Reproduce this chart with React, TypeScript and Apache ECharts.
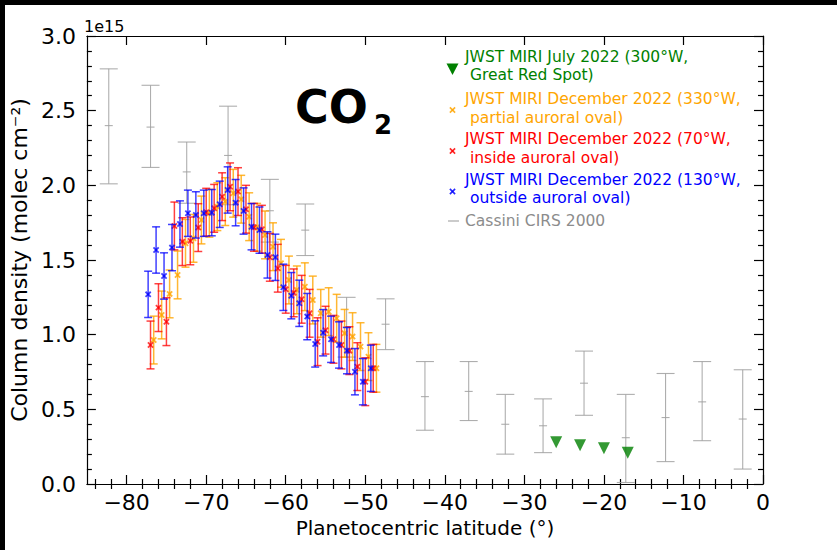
import React, { useEffect, useRef } from "react";
import * as echarts from "echarts";

// ---- axis setup ----
const X_MIN = -85;
const X_MAX = 0;
const Y_MIN = 0;
const Y_MAX = 3.0;
const X_MAJOR_TICKS = [-80, -70, -60, -50, -40, -30, -20, -10, 0];
const X_MINOR_TICKS = [
  -84, -82, -78, -76, -74, -72, -68, -66, -64, -62, -58, -56, -54, -52, -48, -46, -44, -42,
  -38, -36, -34, -32, -28, -26, -24, -22, -18, -16, -14, -12, -8, -6, -4, -2,
];

// ---- Cassini CIRS 2000 (column density in units of 1e15 molec cm^-2) ----
const CASSINI_LAT = [-82.25, -77.0, -72.45, -67.25, -62.0, -57.55, -52.35, -47.45, -42.5, -37.0, -32.4, -27.65, -22.5, -17.25, -12.25, -7.65, -2.55];
const CASSINI_VAL = [2.4, 2.39, 2.09, 2.2, 1.83, 1.7, 1.05, 1.07, 0.585, 0.62, 0.4, 0.39, 0.675, 0.31, 0.445, 0.55, 0.435];
const CASSINI_LO = [2.01, 2.12, 1.88, 1.87, 1.62, 1.53, 0.85, 0.9, 0.36, 0.425, 0.2, 0.21, 0.46, 0.01, 0.15, 0.29, 0.1];
const CASSINI_HI = [2.78, 2.67, 2.29, 2.53, 2.04, 1.875, 1.25, 1.24, 0.82, 0.82, 0.6, 0.57, 0.89, 0.6, 0.74, 0.82, 0.765];

// ---- JWST MIRI July 2022, Great Red Spot ----
const GRS_LAT = [-26, -23, -20, -17];
const GRS_VAL = [0.28, 0.26, 0.24, 0.21];

// ---- JWST MIRI December 2022, 330°W ----
const ORANGE_LAT = [-76.6, -75.6, -74.6, -73.6, -72.6, -71.6, -70.6, -69.6, -68.6, -67.6, -66.6, -65.6, -64.6, -63.6, -62.6, -61.6, -60.6, -59.6, -58.6, -57.6, -56.6, -55.6, -54.6, -53.6, -52.6, -51.6, -50.6, -49.6, -48.6];
const ORANGE_VAL = [0.964, 1.132, 1.273, 1.4, 1.612, 1.645, 1.768, 1.813, 1.857, 1.891, 1.947, 1.907, 1.79, 1.719, 1.668, 1.589, 1.478, 1.366, 1.3, 1.321, 1.232, 1.143, 1.154, 1.11, 1.009, 0.987, 0.92, 0.853, 0.775];
const ORANGE_ERR = 0.16;

// ---- JWST MIRI December 2022, 70°W ----
const RED_LAT = [-77.0, -76.0, -75.0, -74.0, -73.0, -72.0, -71.0, -70.0, -69.0, -68.0, -67.0, -66.0, -65.0, -64.0, -63.0, -62.0, -61.0, -60.0, -59.0, -58.0, -57.0, -56.0, -55.0, -54.0, -53.0, -52.0, -51.0, -50.0, -49.0];
const RED_VAL = [0.931, 1.181, 1.087, 1.728, 1.623, 1.628, 1.717, 1.82, 1.846, 1.924, 1.99, 1.958, 1.84, 1.719, 1.706, 1.518, 1.445, 1.304, 1.28, 1.237, 1.143, 0.953, 1.03, 0.969, 0.931, 0.893, 0.786, 0.685, 0.775];
const RED_ERR = 0.16;

// ---- JWST MIRI December 2022, 130°W ----
const BLUE_LAT = [-77.3, -76.3, -75.3, -74.3, -73.3, -72.3, -71.3, -70.3, -69.3, -68.3, -67.3, -66.3, -65.3, -64.3, -63.3, -62.3, -61.3, -60.3, -59.3, -58.3, -57.3, -56.3, -55.3, -54.3, -53.3, -52.3, -51.3, -50.3, -49.3];
const BLUE_VAL = [1.27, 1.567, 1.393, 1.583, 1.741, 1.813, 1.802, 1.813, 1.817, 1.873, 1.969, 1.884, 1.828, 1.723, 1.7, 1.534, 1.518, 1.317, 1.261, 1.21, 1.121, 0.938, 1.013, 0.969, 0.931, 0.893, 0.752, 0.685, 0.775];
const BLUE_ERR = 0.155;

const FONT = "DejaVu Sans";
const C_GREEN = "#008000";
const C_ORANGE = "#ffa500";
const C_RED = "#ff0000";
const C_BLUE = "#0000ff";
const C_GRAY = "#a0a0a0";

type Marker = "x" | "hline";

function errorBars(color: string, opacity: number, lineWidth: number, capHalf: number, marker: Marker) {
  return (_params: any, api: any) => {
    const x = api.value(0);
    const y = api.value(1);
    const lo = api.value(2);
    const hi = api.value(3);
    const p = api.coord([x, y]);
    const pHi = api.coord([x, hi]);
    const pLo = api.coord([x, lo]);
    const style = { stroke: color, lineWidth, opacity };
    const children: any[] = [
      { type: "line", shape: { x1: pHi[0], y1: pHi[1], x2: pLo[0], y2: pLo[1] }, style },
      { type: "line", shape: { x1: pHi[0] - capHalf, y1: pHi[1], x2: pHi[0] + capHalf, y2: pHi[1] }, style },
      { type: "line", shape: { x1: pLo[0] - capHalf, y1: pLo[1], x2: pLo[0] + capHalf, y2: pLo[1] }, style },
    ];
    if (marker === "x") {
      const s = 2.6;
      const ms = { stroke: color, lineWidth: 1.8, opacity };
      children.push({ type: "line", shape: { x1: p[0] - s, y1: p[1] - s, x2: p[0] + s, y2: p[1] + s }, style: ms });
      children.push({ type: "line", shape: { x1: p[0] - s, y1: p[1] + s, x2: p[0] + s, y2: p[1] - s }, style: ms });
    } else {
      children.push({ type: "line", shape: { x1: p[0] - 4, y1: p[1], x2: p[0] + 4, y2: p[1] }, style });
    }
    return { type: "group", children };
  };
}

function withErr(lat: number[], val: number[], err: number) {
  return lat.map((l, i) => [l, val[i], val[i] - err, val[i] + err]);
}

const fmtLat = (v: number) => (v < 0 ? "\u2212" + Math.abs(v) : String(v));

function legendX(cx: number, cy: number, color: string) {
  const s = 2.6;
  return [
    { type: "line", shape: { x1: cx - s, y1: cy - s, x2: cx + s, y2: cy + s }, style: { stroke: color, lineWidth: 1.6, opacity: 0.85 } },
    { type: "line", shape: { x1: cx - s, y1: cy + s, x2: cx + s, y2: cy - s }, style: { stroke: color, lineWidth: 1.6, opacity: 0.85 } },
  ];
}

function legendText(x: number, y: number, text: string, color: string) {
  return {
    type: "text",
    x,
    y,
    style: { text, fill: color, font: `15.5px "${FONT}"`, lineHeight: 18.5, textVerticalAlign: "middle", verticalAlign: "middle" },
  };
}

export default function App() {
  const ref = useRef<HTMLDivElement>(null);

  useEffect(() => {
    if (!ref.current) return;
    const chart = echarts.init(ref.current, undefined, { renderer: "svg" });

    const tickLine = { color: "#000", width: 1.2 };
    const xBase = { type: "value", min: X_MIN, max: X_MAX, splitLine: { show: false } };
    const yBase = { type: "value", min: Y_MIN, max: Y_MAX, interval: 0.5, splitLine: { show: false }, minorSplitLine: { show: false } };

    const option: any = {
      animation: false,
      backgroundColor: "#ffffff",
      grid: { left: 84, top: 36, width: 679, height: 448 },
      xAxis: [
        {
          ...xBase,
          position: "bottom",
          axisLine: { show: true, onZero: false, lineStyle: tickLine },
          axisTick: { show: true, inside: true, length: 9, customValues: X_MAJOR_TICKS, lineStyle: tickLine },
          axisLabel: { show: true, customValues: X_MAJOR_TICKS, formatter: fmtLat, fontSize: 22, fontFamily: FONT, color: "#000", margin: 7 },
          name: "Planetocentric latitude (°)",
          nameLocation: "middle",
          nameGap: 33,
          nameTextStyle: { fontSize: 20, fontFamily: FONT, color: "#000" },
        },
        {
          ...xBase,
          position: "bottom",
          axisLine: { show: false },
          axisTick: { show: true, inside: true, length: 5, customValues: X_MINOR_TICKS, lineStyle: tickLine },
          axisLabel: { show: false },
        },
        {
          ...xBase,
          position: "top",
          axisLine: { show: true, onZero: false, lineStyle: tickLine },
          axisTick: { show: true, inside: true, length: 9, customValues: X_MAJOR_TICKS, lineStyle: tickLine },
          axisLabel: { show: false },
        },
        {
          ...xBase,
          position: "top",
          axisLine: { show: false },
          axisTick: { show: true, inside: true, length: 5, customValues: X_MINOR_TICKS, lineStyle: tickLine },
          axisLabel: { show: false },
        },
      ],
      yAxis: [
        {
          ...yBase,
          position: "left",
          axisLine: { show: true, onZero: false, lineStyle: tickLine },
          axisTick: { show: true, inside: true, length: 9, lineStyle: tickLine },
          minorTick: { show: true, splitNumber: 5, length: 5, lineStyle: tickLine },
          axisLabel: { formatter: (v: number) => v.toFixed(1), fontSize: 22, fontFamily: FONT, color: "#000", margin: 11 },
          name: "Column density (molec cm\u207B\u00B2)",
          nameLocation: "middle",
          nameRotate: 90,
          nameGap: 50,
          nameTextStyle: { fontSize: 22, fontFamily: FONT, color: "#000" },
        },
        {
          ...yBase,
          position: "right",
          axisLine: { show: true, onZero: false, lineStyle: tickLine },
          axisTick: { show: true, inside: true, length: 9, lineStyle: tickLine },
          minorTick: { show: true, splitNumber: 5, length: 5, lineStyle: tickLine },
          axisLabel: { show: false },
        },
      ],
      series: [
        {
          name: "Cassini CIRS 2000",
          type: "custom",
          xAxisIndex: 0,
          yAxisIndex: 0,
          encode: { x: 0, y: 1 },
          renderItem: errorBars(C_GRAY, 0.85, 1.1, 9, "hline"),
          data: CASSINI_LAT.map((l, i) => [l, CASSINI_VAL[i], CASSINI_LO[i], CASSINI_HI[i]]),
          z: 2,
        },
        {
          name: "JWST MIRI December 2022 (330°W)",
          type: "custom",
          xAxisIndex: 0,
          yAxisIndex: 0,
          encode: { x: 0, y: 1 },
          renderItem: errorBars(C_ORANGE, 0.8, 1.5, 4, "x"),
          data: withErr(ORANGE_LAT, ORANGE_VAL, ORANGE_ERR),
          z: 3,
        },
        {
          name: "JWST MIRI December 2022 (70°W)",
          type: "custom",
          xAxisIndex: 0,
          yAxisIndex: 0,
          encode: { x: 0, y: 1 },
          renderItem: errorBars(C_RED, 0.75, 1.5, 4, "x"),
          data: withErr(RED_LAT, RED_VAL, RED_ERR),
          z: 4,
        },
        {
          name: "JWST MIRI December 2022 (130°W)",
          type: "custom",
          xAxisIndex: 0,
          yAxisIndex: 0,
          encode: { x: 0, y: 1 },
          renderItem: errorBars(C_BLUE, 0.75, 1.5, 4, "x"),
          data: withErr(BLUE_LAT, BLUE_VAL, BLUE_ERR),
          z: 5,
        },
        {
          name: "JWST MIRI July 2022 (300°W)",
          type: "scatter",
          xAxisIndex: 0,
          yAxisIndex: 0,
          symbol: "triangle",
          symbolRotate: 180,
          symbolSize: 12,
          itemStyle: { color: C_GREEN },
          data: GRS_LAT.map((l, i) => [l, GRS_VAL[i]]),
          z: 6,
        },
      ],
      graphic: [
        // slide frame edges
        { type: "rect", shape: { x: 0, y: 0, width: 837, height: 5 }, style: { fill: "#000" }, z: 100 },
        { type: "rect", shape: { x: 0, y: 0, width: 5, height: 550 }, style: { fill: "#000" }, z: 100 },
        // axis offset text
        { type: "text", x: 84, y: 26, style: { text: "1e15", font: `16px "${FONT}"`, fill: "#000", textVerticalAlign: "middle", verticalAlign: "middle" } },
        // species title
        { type: "text", x: 295, y: 107, style: { text: "CO", font: `bold 46px "DejaVu Sans"`, fill: "#000", textVerticalAlign: "middle", verticalAlign: "middle" } },
        { type: "text", x: 374, y: 125, style: { text: "2", font: `bold 26px "DejaVu Sans"`, fill: "#000", textVerticalAlign: "middle", verticalAlign: "middle" } },
        // legend
        {
          type: "polygon",
          shape: { points: [[446.5, 63.5], [458.5, 63.5], [452.5, 75]] },
          style: { fill: C_GREEN },
        },
        legendText(465, 66, "JWST MIRI July 2022 (300°W,\n Great Red Spot)", C_GREEN),
        ...legendX(452.5, 110, C_ORANGE),
        legendText(465, 108.5, "JWST MIRI December 2022 (330°W,\n partial auroral oval)", C_ORANGE),
        ...legendX(452.5, 151, C_RED),
        legendText(465, 148.5, "JWST MIRI December 2022 (70°W,\n inside auroral oval)", C_RED),
        ...legendX(452.5, 191.5, C_BLUE),
        legendText(465, 189, "JWST MIRI December 2022 (130°W,\n outside auroral oval)", C_BLUE),
        { type: "line", shape: { x1: 448, y1: 221, x2: 459, y2: 221 }, style: { stroke: C_GRAY, lineWidth: 1.1 } },
        legendText(465, 221, "Cassini CIRS 2000", "#8c8c8c"),
      ],
    };

    chart.setOption(option);
    return () => chart.dispose();
  }, []);

  return (
    <div
      ref={ref}
      style={{ position: "absolute", left: 0, top: 0, width: 837, height: 550, background: "#fff" }}
    />
  );
}
